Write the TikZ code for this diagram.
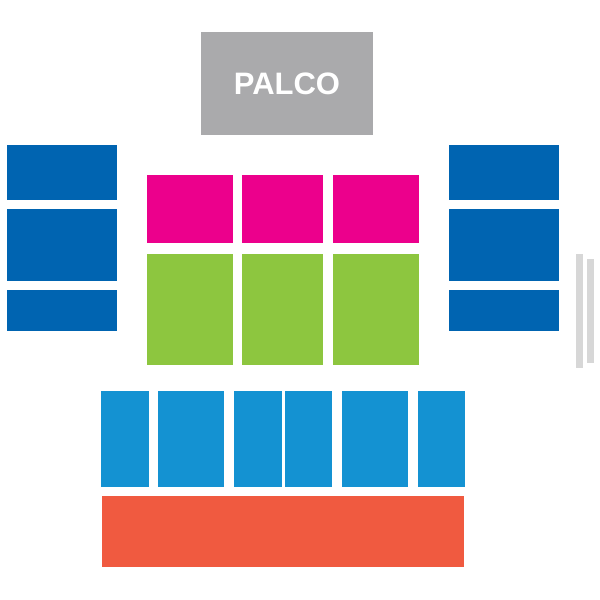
\documentclass[tikz,border=0pt]{standalone}
\usepackage{fontspec}
\setmainfont{Liberation Sans}
\definecolor{palco}{RGB}{170,170,172}
\definecolor{dblue}{RGB}{0,100,177}
\definecolor{mag}{RGB}{236,0,140}
\definecolor{grn}{RGB}{141,198,63}
\definecolor{lblue}{RGB}{20,146,210}
\definecolor{redc}{RGB}{240,90,64}
\definecolor{lgray}{RGB}{215,215,215}
\begin{document}
\begin{tikzpicture}[x=1pt,y=-1pt]
\useasboundingbox (0,0) rectangle (600,600);
\fill[palco] (201,32) rectangle (373,135);
\node[text=white,font=\bfseries\fontsize{31}{31}\selectfont] (palco) at (287,84) {PALCO};
\foreach \a/\b in {145/200,209/281,290/331}{
  \fill[dblue] (7,\a) rectangle (117,\b);
  \fill[dblue] (449,\a) rectangle (559,\b);
}
\foreach \a/\b in {147/233,242/323,333/419}{
  \fill[mag] (\a,175) rectangle (\b,243);
  \fill[grn] (\a,254) rectangle (\b,365);
}
\foreach \a/\b in {101/149,158/224,234/282,285/332,342/408,418/465}{
  \fill[lblue] (\a,391) rectangle (\b,487);
}
\fill[redc] (102,496) rectangle (464,567);
\fill[lgray] (576,254) rectangle (583,368);
\fill[lgray] (587,259) rectangle (594,363);
\end{tikzpicture}
\end{document}
